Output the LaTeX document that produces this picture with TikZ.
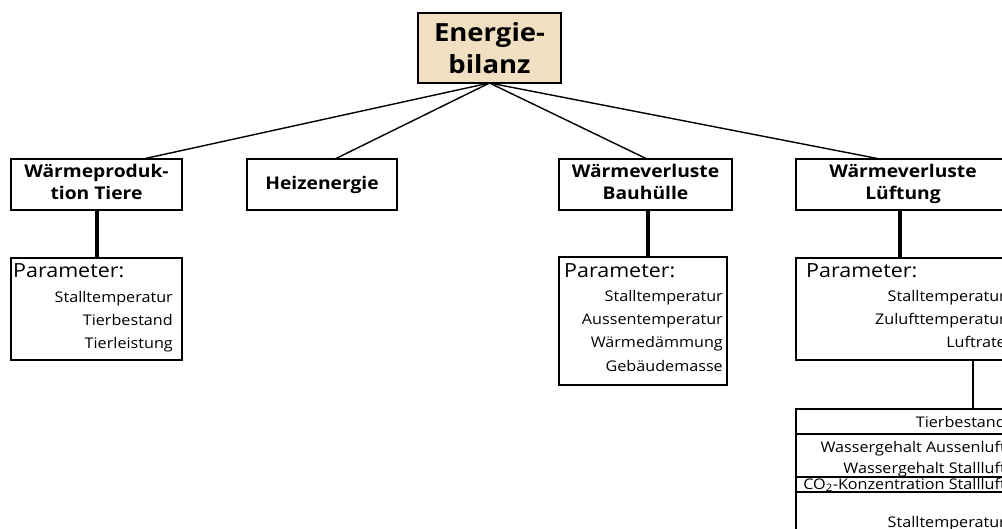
\documentclass[tikz,border=0pt]{standalone}
\usepackage{fontspec}
\setmainfont{Open Sans}[FakeStretch=1.1]
\definecolor{topfill}{RGB}{241,223,193}
\begin{document}
\begin{tikzpicture}[x=1pt,y=-1pt,
  box/.style={draw=black, line width=2.4pt, inner sep=0pt, outer sep=0pt},
  rowbox/.style={draw=black, line width=2pt, inner sep=0pt, outer sep=0pt},
  link/.style={draw=black, line width=1.4pt},
  stem/.style={draw=black, line width=4pt},
  thinstem/.style={draw=black, line width=2pt},
  toplbl/.style={font=\fontsize{25}{25}\selectfont\bfseries, inner sep=0pt, anchor=base},
  lbl/.style={font=\fontsize{17.5}{17.5}\selectfont\bfseries, inner sep=0pt, anchor=base},
  phead/.style={font=\fontsize{19.5}{19.5}\selectfont, inner sep=0pt, anchor=base west},
  item/.style={font=\fontsize{14.7}{14.7}\selectfont, inner sep=0pt, anchor=base east}]
\useasboundingbox (0,0) rectangle (1002,529);
\clip (0,0) rectangle (1002,529);

% top box
\node[box, fill=topfill, minimum width=143, minimum height=70] (top) at (489.5,48) {};
\node[toplbl] (t1) at (489.5,42) {Energie-};
\node[toplbl] (t2) at (489.5,74) {bilanz};

% second level
\node[box, minimum width=171, minimum height=51] (wp) at (96.5,184.5) {};
\node[lbl] (wp1) at (96.5,178) {Wärmeproduk-};
\node[lbl] (wp2) at (96.5,200) {tion Tiere};

\node[box, minimum width=150, minimum height=51] (hz) at (322,184.5) {};
\node[lbl] (hz1) at (322,190) {Heizenergie};

\node[box, minimum width=173, minimum height=51] (bh) at (645.5,184.5) {};
\node[lbl] (bh1) at (645.5,178) {Wärmeverluste};
\node[lbl] (bh2) at (645.5,200) {Bauhülle};

\node[box, minimum width=214, minimum height=51] (lu) at (903,184.5) {};
\node[lbl] (lu1) at (903,178) {Wärmeverluste};
\node[lbl] (lu2) at (903,200) {Lüftung};

% connectors from top
\draw[link] (top.south) -- ([xshift=46.5pt]wp.north);
\draw[link] (top.south) -- ([xshift=13pt]hz.north);
\draw[link] (top.south) -- ([xshift=1.5pt]bh.north);
\draw[link] (top.south) -- ([xshift=-23pt]lu.north);

% parameter boxes
\node[box, minimum width=171, minimum height=102] (p1) at (96.5,309) {};
\node[phead] (p1h) at (13,278) {Parameter:};
\node[item] (p1a) at (173,303) {Stalltemperatur};
\node[item] (p1b) at (173,326) {Tierbestand};
\node[item] (p1c) at (173,349) {Tierleistung};

\node[box, minimum width=168, minimum height=128] (p2) at (643,321) {};
\node[phead] (p2h) at (564,278) {Parameter:};
\node[item] (p2a) at (723,302) {Stalltemperatur};
\node[item] (p2b) at (723,325) {Aussentemperatur};
\node[item] (p2c) at (723,348) {Wärmedämmung};
\node[item] (p2d) at (723,372) {Gebäudemasse};

\node[box, minimum width=214, minimum height=102] (p3) at (903,309) {};
\node[phead] (p3h) at (806,278) {Parameter:};
\node[item] (p3a) at (1006,302) {Stalltemperatur};
\node[item] (p3b) at (1006,325) {Zulufttemperatur};
\node[item] (p3c) at (1006,348) {Luftrate};

% stems
\draw[stem] (wp.south) -- (p1.north);
\draw[stem] ([xshift=2.5pt]bh.south) -- ([xshift=2.5pt]bh.south |- p2.north);
\draw[stem] ([xshift=-3pt]lu.south) -- ([xshift=-3pt]lu.south |- p3.north);

% lower table
\node[rowbox, minimum width=214, minimum height=25] (r1) at (903,421.5) {};
\node[rowbox, minimum width=214, minimum height=43] (r2) at (903,455.5) {};
\node[rowbox, minimum width=214, minimum height=15] (r3) at (903,484.5) {};
\node[rowbox, minimum width=214, minimum height=50] (r4) at (903,517) {};
\node[item] (r1a) at (1006,428) {Tierbestand};
\node[item] (r2a) at (1006,453) {Wassergehalt Aussenluft};
\node[item] (r2b) at (1006,473) {Wassergehalt Stallluft};
\node[item] (r3a) at (1006,489) {CO\textsubscript{2}-Konzentration Stallluft};
\node[item] (r4a) at (1006,527) {Stalltemperatur};

\draw[thinstem] ([xshift=70pt]p3.south) -- ([xshift=70pt]p3.south |- r1.north);
\end{tikzpicture}
\end{document}
